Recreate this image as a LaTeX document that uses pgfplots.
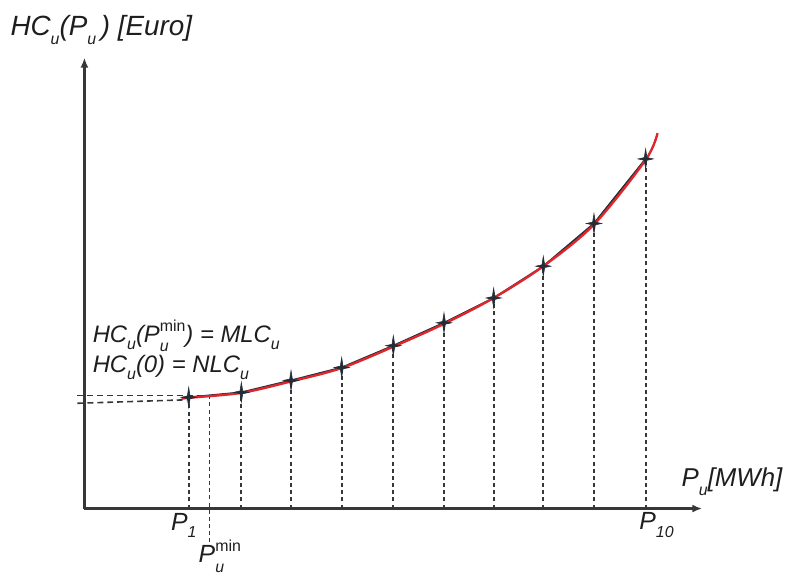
\documentclass[border=0pt]{standalone}
\usepackage{fontspec}
\setmainfont{Liberation Sans}
\usepackage{pgfplots}
\pgfplotsset{compat=1.18}
\usetikzlibrary{arrows.meta}
\definecolor{curvered}{RGB}{222,38,45}
\definecolor{linedark}{RGB}{35,45,55}
\definecolor{axisgray}{RGB}{55,55,55}
\definecolor{txt}{RGB}{30,30,30}
\newcommand{\supsub}[2]{\begingroup\setbox0=\hbox{\raisebox{0.85ex}{\fontsize{8}{9}\selectfont\upshape #1}}\setbox2=\hbox{\raisebox{-0.7ex}{\fontsize{8}{9}\selectfont #2}}\rlap{\copy0}\rlap{\copy2}\ifdim\wd0>\wd2 \hskip\wd0\else\hskip\wd2\fi\endgroup}
\newcommand{\sub}[1]{\raisebox{-0.6ex}{\fontsize{8}{9}\selectfont #1}}
\pgfdeclareplotmark{star4}{%
  \pgfpathmoveto{\pgfqpoint{0pt}{1.3\pgfplotmarksize}}%
  \pgfpathlineto{\pgfqpoint{0.18\pgfplotmarksize}{0.18\pgfplotmarksize}}%
  \pgfpathlineto{\pgfqpoint{\pgfplotmarksize}{0pt}}%
  \pgfpathlineto{\pgfqpoint{0.18\pgfplotmarksize}{-0.18\pgfplotmarksize}}%
  \pgfpathlineto{\pgfqpoint{0pt}{-1.3\pgfplotmarksize}}%
  \pgfpathlineto{\pgfqpoint{-0.18\pgfplotmarksize}{-0.18\pgfplotmarksize}}%
  \pgfpathlineto{\pgfqpoint{-\pgfplotmarksize}{0pt}}%
  \pgfpathlineto{\pgfqpoint{-0.18\pgfplotmarksize}{0.18\pgfplotmarksize}}%
  \pgfpathclose
  \pgfusepathqfillstroke}
\begin{document}
\begin{tikzpicture}
\begin{axis}[
  scale only axis,
  width=311pt, height=227pt,
  xmin=0, xmax=622, ymin=0, ymax=454,
  axis lines=left,
  axis line style={line width=1.3pt, axisgray, -{Latex[length=5pt,width=4pt]}},
  xtick=\empty, ytick=\empty,
  clip=false,
]
% bounding frame matching the reference image extent
\path (axis cs:-85,512) rectangle (axis cs:704,-69);
% vertical dashed drop lines
\addplot[ycomb, axisgray, line width=0.9pt, dash pattern=on 2pt off 1.6pt, no marks] coordinates {
 (105,112) (158,117) (208,129) (259,142) (311,164) (362,187) (412,212) (462,244) (513,287) (565,352)};
% P_u^min drop line
\addplot[axisgray, line width=0.9pt, dash pattern=on 2pt off 1.6pt, no marks] coordinates {(126,114) (126,-36)};
% horizontal dashed lines at left
\addplot[axisgray, line width=0.8pt, dash pattern=on 3pt off 2pt, no marks] coordinates {(-7,114) (126,114)};
\addplot[axisgray, line width=0.8pt, dash pattern=on 3pt off 2pt, no marks] coordinates {(-7,106) (103,109.5)};
% piecewise linear cost
\addplot[linedark, line width=0.9pt, no marks] coordinates {
 (105,112) (158,117) (208,129) (259,142) (311,164) (362,187) (412,212) (462,244) (513,287) (565,352)};
% smooth cost curve
\addplot[curvered, line width=1.2pt, smooth, no marks] coordinates {
 (98,110.5) (105,111.5) (158,116.5) (208,128) (259,141.5) (311,163) (362,186) (412,212) (462,244) (513,286) (565,351) (577,378)};
% marks
\addplot[only marks, mark=star4, mark size=3.8pt, mark options={fill=linedark, draw=linedark, line width=0.3pt}] coordinates {
 (105,112) (158,117) (208,129) (259,142) (311,164) (362,187) (412,212) (462,244) (513,287) (565,352)};
% labels
\node[txt, font=\fontsize{14}{16}\selectfont\itshape, anchor=center] at (axis cs:17,482) {HC\sub{u}(P\sub{u}\,) [Euro]};
\node[txt, font=\fontsize{13}{15}\selectfont\itshape, anchor=center] at (axis cs:652,27) {P\sub{u}[MWh]};
\node[txt, font=\fontsize{12.5}{15}\selectfont\itshape, anchor=center] at (axis cs:100,-17) {P\sub{1}};
\node[txt, font=\fontsize{12.5}{15}\selectfont\itshape, anchor=center] at (axis cs:576,-17) {P\sub{10}};
\node[txt, font=\fontsize{12.5}{15}\selectfont\itshape, anchor=west] at (axis cs:108,-48) {P\supsub{min}{u}};
\node[txt, font=\fontsize{12}{15}\selectfont\itshape, anchor=west, inner sep=0pt] at (axis cs:8,174) {HC\sub{u}(P\supsub{min}{u}) = MLC\sub{u}};
\node[txt, font=\fontsize{12}{15}\selectfont\itshape, anchor=west, inner sep=0pt] at (axis cs:8,142) {HC\sub{u}(0) = NLC\sub{u}};
\end{axis}
\end{tikzpicture}
\end{document}
